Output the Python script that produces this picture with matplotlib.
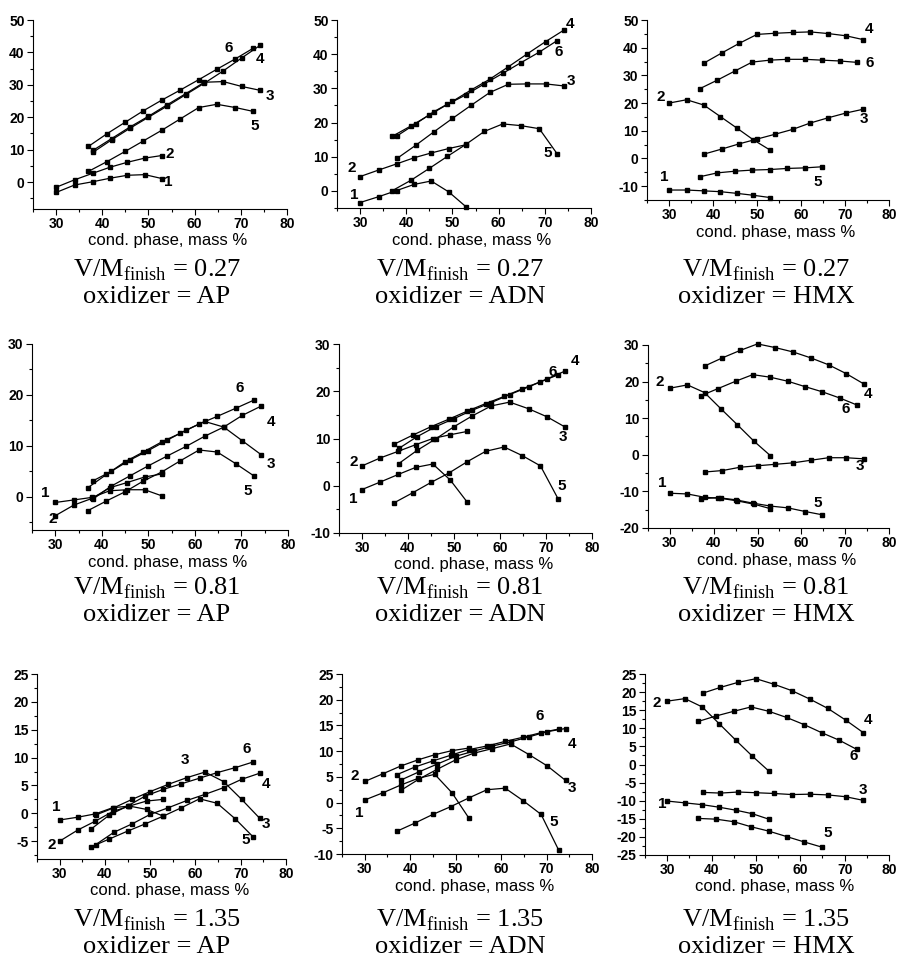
import matplotlib
matplotlib.use("Agg")
import numpy as np
import matplotlib.pyplot as plt
from matplotlib.ticker import MultipleLocator

plt.rcParams['font.family'] = ['Liberation Sans', 'DejaVu Sans']
plt.rcParams['mathtext.fontset'] = 'custom'
plt.rcParams['mathtext.rm'] = 'Liberation Serif'

# cond. phase, mass % (three grids of compositions)
xa = [30, 34, 37.9, 41.7, 45.4, 49.2, 52.9]          # curves 1, 2
xb = [37, 41, 45, 48.9, 52.9, 56.9, 60.9, 64.8, 68.8, 72.7]   # curves 5, 6
xc = [38, 42, 46, 50, 54, 58.1, 62.1, 66.2, 70.2, 74.2]       # curves 3, 4

ratios = ['0.27', '0.81', '1.35']
oxidizers = ['AP', 'ADN', 'HMX']

# curves 1..6 for each panel
ap_027 = [
    [-3.2, -0.9, 0.1, 1.2, 2.1, 2.3, 1.1],
    [-1.6, 0.7, 2.7, 4.6, 6.1, 7.4, 8.2],
    [9.8, 13.4, 17.0, 20.3, 23.8, 27.3, 30.8, 31.0, 29.5, 28.3],
    [9.2, 13.0, 16.6, 20.0, 23.4, 27.0, 30.5, 34.3, 38.3, 42.2],
    [3.3, 6.3, 9.5, 12.7, 16.0, 19.5, 23.0, 24.0, 23.0, 21.8],
    [11.0, 14.9, 18.5, 22.0, 25.3, 28.4, 31.6, 34.8, 38.0, 41.3],
]
adn_027 = [
    [-3.4, -1.7, 0.1, 1.9, 2.9, -0.3, -4.6],
    [4.2, 6.1, 7.9, 9.7, 11.1, 12.4, 13.5],
    [9.5, 13.3, 17.3, 21.2, 25.0, 28.8, 31.2, 31.3, 31.3, 30.7],
    [16.1, 19.6, 23.2, 26.2, 29.5, 32.7, 36.3, 40.1, 43.7, 47.1],
    [0.1, 3.1, 6.6, 10.1, 13.6, 17.4, 19.6, 19.1, 18.2, 10.8],
    [16.0, 19.0, 22.2, 25.3, 28.1, 31.3, 34.4, 37.5, 40.6, 44.0],
]
hmx_027 = [
    [-11.4, -11.4, -11.7, -12.0, -12.6, -13.3, -14.1],
    [20.0, 21.2, 19.3, 15.1, 11.0, 6.7, 3.1],
    [1.6, 3.4, 5.3, 7.0, 8.7, 10.5, 12.8, 14.7, 16.4, 17.8],
    [34.5, 38.1, 41.6, 44.8, 45.2, 45.5, 45.7, 45.1, 44.3, 42.9],
    [-6.6, -5.2, -4.6, -4.2, -4.0, -3.6, -3.4, -3.0],
    [25.2, 28.3, 31.6, 34.8, 35.5, 35.8, 35.8, 35.5, 35.2, 34.7],
]
ap_081 = [
    [-1.1, -0.6, -0.1, 1.2, 1.4, 1.4, 0.2],
    [-3.7, -1.6, -0.3, 1.8, 2.8, 3.9, 4.5],
    [3.1, 5.0, 7.2, 9.1, 11.1, 13.1, 14.8, 13.7, 11.0, 8.3],
    [-0.5, 2.1, 4.1, 6.1, 8.0, 9.9, 11.9, 13.7, 16.0, 17.8],
    [-2.7, -0.8, 1.0, 3.1, 4.9, 7.1, 9.2, 8.8, 6.5, 4.1],
    [1.8, 4.4, 6.9, 8.8, 10.8, 12.5, 14.3, 15.8, 17.4, 19.0],
]
adn_081 = [
    [-0.8, 0.8, 2.4, 3.9, 4.6, 1.2, -3.5],
    [4.2, 5.9, 7.3, 8.7, 10.0, 10.8, 11.5],
    [4.7, 7.5, 9.9, 12.5, 14.8, 16.9, 17.7, 16.3, 14.6, 12.4],
    [7.9, 10.4, 12.5, 14.2, 16.0, 17.6, 19.3, 20.9, 22.6, 24.3],
    [-3.6, -1.5, 0.7, 2.7, 5.1, 7.3, 8.2, 6.4, 4.2, -2.9],
    [8.8, 10.7, 12.5, 14.1, 15.8, 17.4, 18.9, 20.5, 22.0, 23.5],
]
hmx_081 = [
    [-10.5, -10.7, -11.6, -11.9, -12.6, -13.5, -14.7],
    [18.2, 19.1, 17.0, 12.5, 8.2, 3.7, -0.2],
    [-4.7, -4.3, -3.4, -3.0, -2.6, -2.2, -1.5, -0.8, -0.8, -1.1],
    [24.3, 26.5, 28.5, 30.3, 29.3, 28.1, 26.5, 24.6, 22.2, 19.4],
    [-12.0, -11.7, -12.3, -13.2, -14.0, -14.5, -15.5, -16.4],
    [16.1, 18.1, 20.1, 21.9, 21.2, 20.1, 18.6, 17.2, 15.5, 13.6],
]
ap_135 = [
    [-1.2, -0.7, -0.1, 1.0, 1.3, 0.7, -0.5],
    [-5.0, -3.0, -1.4, 0.3, 1.3, 2.2, 2.5],
    [-0.3, 1.0, 2.5, 3.9, 5.2, 6.4, 7.4, 5.7, 2.5, -0.9],
    [-5.6, -3.4, -1.9, -0.2, 1.0, 2.3, 3.4, 4.6, 6.1, 7.2],
    [-6.0, -4.6, -3.2, -1.9, -0.5, 1.0, 2.6, 1.8, -1.0, -4.2],
    [-2.8, -0.3, 1.3, 3.1, 4.3, 5.3, 6.3, 7.3, 8.2, 9.2],
]
adn_135 = [
    [0.5, 1.9, 3.4, 4.7, 5.5, 1.9, -3.0],
    [4.1, 5.6, 7.1, 8.3, 9.3, 10.1, 10.6],
    [2.4, 4.6, 6.5, 8.3, 9.6, 10.5, 11.4, 9.3, 7.1, 4.3],
    [4.4, 6.0, 7.5, 9.0, 10.0, 11.0, 11.8, 12.8, 13.8, 14.4],
    [-5.6, -4.0, -2.3, -0.8, 0.9, 2.5, 2.8, 0.4, -2.3, -9.3],
    [5.4, 6.9, 8.1, 9.2, 10.3, 11.0, 11.9, 12.7, 13.6, 14.3],
]
hmx_135 = [
    [-10.1, -10.6, -11.1, -11.8, -12.6, -13.6, -15.1],
    [17.5, 18.2, 15.9, 11.3, 6.8, 2.3, -1.8],
    [-7.7, -7.9, -7.6, -7.8, -8.0, -8.3, -8.2, -8.4, -8.9, -9.9],
    [19.7, 21.3, 22.7, 23.7, 22.2, 20.4, 18.1, 15.5, 12.3, 8.8],
    [-14.9, -15.1, -15.8, -17.2, -18.4, -19.9, -21.4, -22.8],
    [11.9, 13.4, 14.7, 15.9, 14.7, 13.0, 11.0, 8.8, 6.7, 4.2],
]

panels = [[ap_027, adn_027, hmx_027],
          [ap_081, adn_081, hmx_081],
          [ap_135, adn_135, hmx_135]]

# curve number labels: (text, x, y) in data units
labels = [
    [[('6', 67.4, 41.4), ('4', 74.1, 38), ('3', 76.2, 26.7), ('5', 73, 17.2), ('2', 54.6, 8.7), ('1', 54.3, 0)],
     [('4', 75.4, 48.8), ('6', 73.1, 40.7), ('3', 75.6, 32.2), ('5', 70.7, 11), ('2', 28.3, 6.6), ('1', 28.7, -1.2)],
     [('4', 75.5, 46.6), ('6', 75.6, 34.3), ('3', 74.2, 14.1), ('2', 28.1, 22.3), ('5', 63.9, -8.4), ('1', 29, -6.6)]],
    [[('6', 69.6, 21.4), ('4', 76.4, 14.6), ('3', 76.4, 6.4), ('5', 71.4, 1.1), ('1', 27.9, 0.7), ('2', 29.5, -4.3)],
     [('4', 76.2, 26.5), ('6', 71.4, 24.1), ('3', 73.6, 10.4), ('5', 73.5, -0.1), ('2', 28.1, 5.1), ('1', 28.1, -2.8)],
     [('4', 75.2, 16.5), ('6', 70.2, 12.4), ('3', 73.3, -3.0), ('2', 27.7, 19.9), ('1', 28.3, -7.8), ('5', 63.7, -13.3)]],
    [[('6', 71.3, 11.5), ('3', 57.6, 9.6), ('4', 75.6, 5.3), ('3', 75.6, -2.0), ('5', 71.1, -4.8), ('1', 29.3, 1.2), ('2', 28.3, -5.6)],
     [('6', 68.6, 16.9), ('4', 75.6, 11.4), ('3', 75.6, 2.8), ('5', 71.5, -3.7), ('2', 27.9, 5.1), ('1', 28.7, -2.1)],
     [('4', 75.2, 12.2), ('6', 72.1, 2.4), ('3', 74.2, -7.1), ('2', 27.6, 16.9), ('1', 29, -10.8), ('5', 66.2, -18.8)]],
]

W, H = 901, 965
fig = plt.figure(figsize=(W / 100, H / 100), dpi=100)

# axes boxes in pixels: left, right, top, bottom
boxes = [[(33, 287, 20, 209), (337, 591, 20, 208), (647, 889, 20, 200)],
         [(32, 288, 344, 530), (339, 592, 344, 533), (648, 889, 345, 528)],
         [(37, 286, 674, 859), (342, 592, 674, 854), (645, 889, 674, 855)]]
ylims = [[(-8.3, 50), (-5, 50), (-15, 50)],
         [(-6.5, 30), (-10, 30), (-20, 30)],
         [(-8.2, 25), (-10, 25), (-25, 25)]]
ysteps = [(10, 5), (10, 5), (5, 2.5)]
title_y = [(270, 297), (588, 615), (920, 947)]
title_x = [157, 460, 766]
xseq = [xa, xa, xc, xc, xb, xb]
xticks = [30, 40, 50, 60, 70, 80]

axes = []
for r in range(3):
    for c in range(3):
        l, rr, t, b = boxes[r][c]
        ax = fig.add_axes([l / W, 1 - b / H, (rr - l) / W, (b - t) / H])
        axes.append(ax)
        for i, ys in enumerate(panels[r][c]):
            ax.plot(xseq[i][:len(ys)], ys, color='black', lw=0.9,
                    marker='s', ms=3.3, clip_on=False)
        for txt, lx, ly in labels[r][c]:
            ax.text(lx, ly, txt, fontsize=11, fontweight='bold',
                    ha='center', va='center')
        y0, y1 = ylims[r][c]
        step = ysteps[r][0]
        yt = np.arange(np.ceil(y0 / step) * step, y1 + 0.01, step)
        ax.set_xticks(xticks, labels=[str(v) for v in xticks])
        ax.set_yticks(yt, labels=[str(int(v)) for v in yt])
        ax.set_xlim(25, 80)
        ax.set_ylim(y0, y1)
        ax.xaxis.set_minor_locator(MultipleLocator(5))
        ax.yaxis.set_minor_locator(MultipleLocator(ysteps[r][1]))
        ax.spines['top'].set_visible(False)
        ax.spines['right'].set_visible(False)
        ax.tick_params(which='major', direction='out', length=4, width=0.8, pad=2)
        ax.tick_params(which='minor', direction='out', length=2, width=0.8)
        fig.text((l + rr) / 2 / W + 8 / W, 1 - (b + 32) / H,
                 'cond. phase, mass %', fontsize=12, ha='center', va='center')
        fig.text(title_x[c] / W, 1 - title_y[r][0] / H,
                 r'V/M$_{\mathrm{finish}}$ = ' + ratios[r],
                 fontsize=19, family='Liberation Serif', ha='center', va='center')
        fig.text(title_x[c] / W, 1 - title_y[r][1] / H,
                 'oxidizer = ' + oxidizers[c],
                 fontsize=19, family='Liberation Serif', ha='center', va='center')

# make the tick numbers bold once the ticks exist
fig.canvas.draw()
for ax in axes:
    for lab in ax.get_xticklabels() + ax.get_yticklabels():
        lab.set_fontweight('bold')
        lab.set_fontsize(10)

fig.savefig('out.png', dpi=100)
